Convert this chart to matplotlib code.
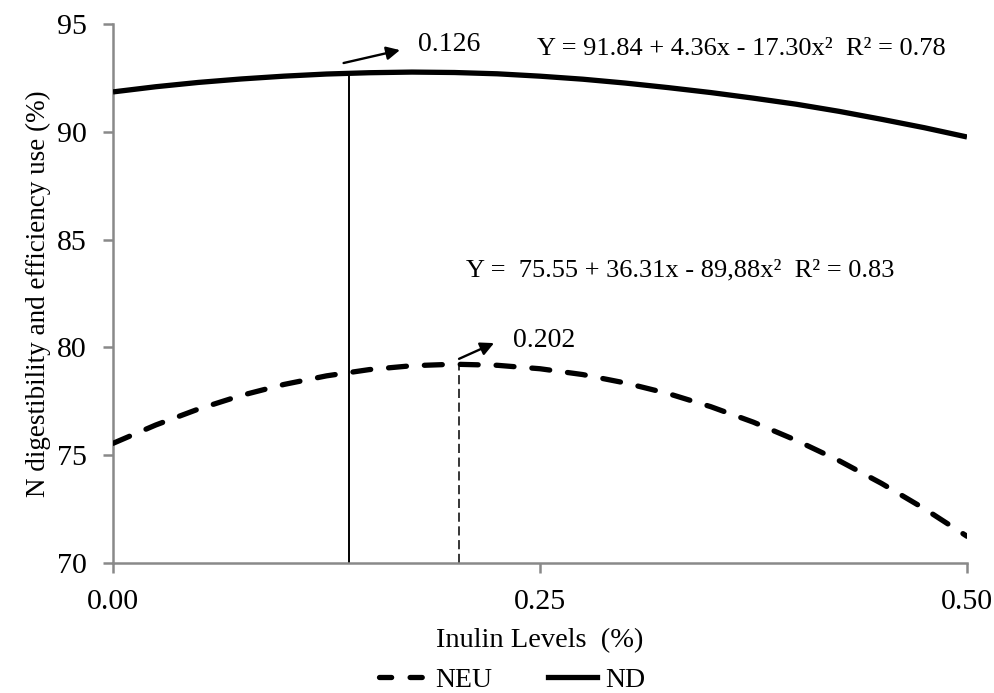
import matplotlib
matplotlib.use("Agg")
import matplotlib.pyplot as plt
from matplotlib.lines import Line2D

plt.rcParams['font.family'] = ['Liberation Serif', 'DejaVu Serif']

# ---- data ----
inulin = [0.000, 0.025, 0.050, 0.075, 0.100, 0.125, 0.150, 0.175, 0.200, 0.225,
          0.250, 0.275, 0.300, 0.325, 0.350, 0.375, 0.400, 0.425, 0.450, 0.475, 0.500]
nd = [91.85, 92.09, 92.29, 92.45, 92.58, 92.68, 92.74, 92.77, 92.75, 92.69,
      92.58, 92.44, 92.26, 92.05, 91.82, 91.56, 91.28, 90.95, 90.58, 90.19, 89.76]
neu = [75.55, 76.40, 77.14, 77.77, 78.28, 78.68, 78.97, 79.15, 79.22, 79.17,
       79.01, 78.74, 78.35, 77.86, 77.25, 76.53, 75.69, 74.75, 73.69, 72.52, 71.24]

nd_opt_x, nd_opt_y = 0.138, 92.77
neu_opt_x, neu_opt_y = 0.2026, 79.28
nd_opt_label = "0.126"
neu_opt_label = "0.202"
nd_eq = "Y = 91.84 + 4.36x - 17.30x²  R² = 0.78"
neu_eq = "Y =  75.55 + 36.31x - 89,88x²  R² = 0.83"

x_ticks = [0.0, 0.25, 0.5]
x_ticklabels = ["0.00", "0.25", "0.50"]
y_ticks = [70, 75, 80, 85, 90, 95]

# ---- figure ----
fig = plt.figure(figsize=(9.94, 6.93), dpi=100)
ax = fig.add_axes([113/994, 1-563/693, 854/994, 539/693])

ax.plot(inulin, nd, color='black', lw=3.8, solid_capstyle='butt', zorder=3)
ax.plot(inulin, neu, color='black', lw=3.8, linestyle=(0, (3.4, 3.4)),
        dash_capstyle='round', zorder=3)

ax.plot([nd_opt_x, nd_opt_x], [70, nd_opt_y], color='black', lw=1.4, zorder=2)
ax.plot([neu_opt_x, neu_opt_x], [70, neu_opt_y], color='black', lw=1.1,
        linestyle=(0, (6, 3)), zorder=2)

arrow = dict(arrowstyle='-|>', color='black', lw=1.7, mutation_scale=20,
             shrinkA=0, shrinkB=0)
ax.annotate("", xy=(0.168, 93.79), xytext=(0.135, 93.19), arrowprops=arrow)
ax.annotate("", xy=(0.2231, 80.2), xytext=(0.2026, 79.47), arrowprops=arrow)

ax.text(0.1967, 94.07, nd_opt_label, fontsize=20, ha='center', va='center')
ax.text(0.2523, 80.34, neu_opt_label, fontsize=20, ha='center', va='center')
ax.text(0.3677, 93.82, nd_eq, fontsize=19, ha='center', va='center')
ax.text(0.332, 83.59, neu_eq, fontsize=19, ha='center', va='center')

ax.set_xlim(0, 0.5)
ax.set_ylim(70, 95)
ax.set_xticks(x_ticks)
ax.set_xticklabels(x_ticklabels)
ax.set_yticks(y_ticks)

gray = '#898989'
for s in ['top', 'right']:
    ax.spines[s].set_visible(False)
for s in ['left', 'bottom']:
    ax.spines[s].set_color(gray)
    ax.spines[s].set_linewidth(1.8)
ax.tick_params(axis='both', colors=gray, width=1.8, length=7, labelsize=21.5,
               labelcolor='black', direction='out', pad=12)

ax.set_xlabel("Inulin Levels  (%)", fontsize=20.5, labelpad=9)
ax.set_ylabel("N digestibility and efficiency use (%)", fontsize=19.5, labelpad=4)

handles = [Line2D([], [], color='black', lw=3.8, linestyle=(0, (2.3, 3.5)),
                  dash_capstyle='round'),
           Line2D([], [], color='black', lw=3.8)]
fig.legend(handles, ["NEU", "ND"], loc='center', bbox_to_anchor=(0.515, 1-680/693),
           ncol=2, frameon=False, fontsize=20, handlelength=1.75, handletextpad=0.3,
           columnspacing=2.0, borderpad=0)

fig.savefig("out.png", dpi=100)
